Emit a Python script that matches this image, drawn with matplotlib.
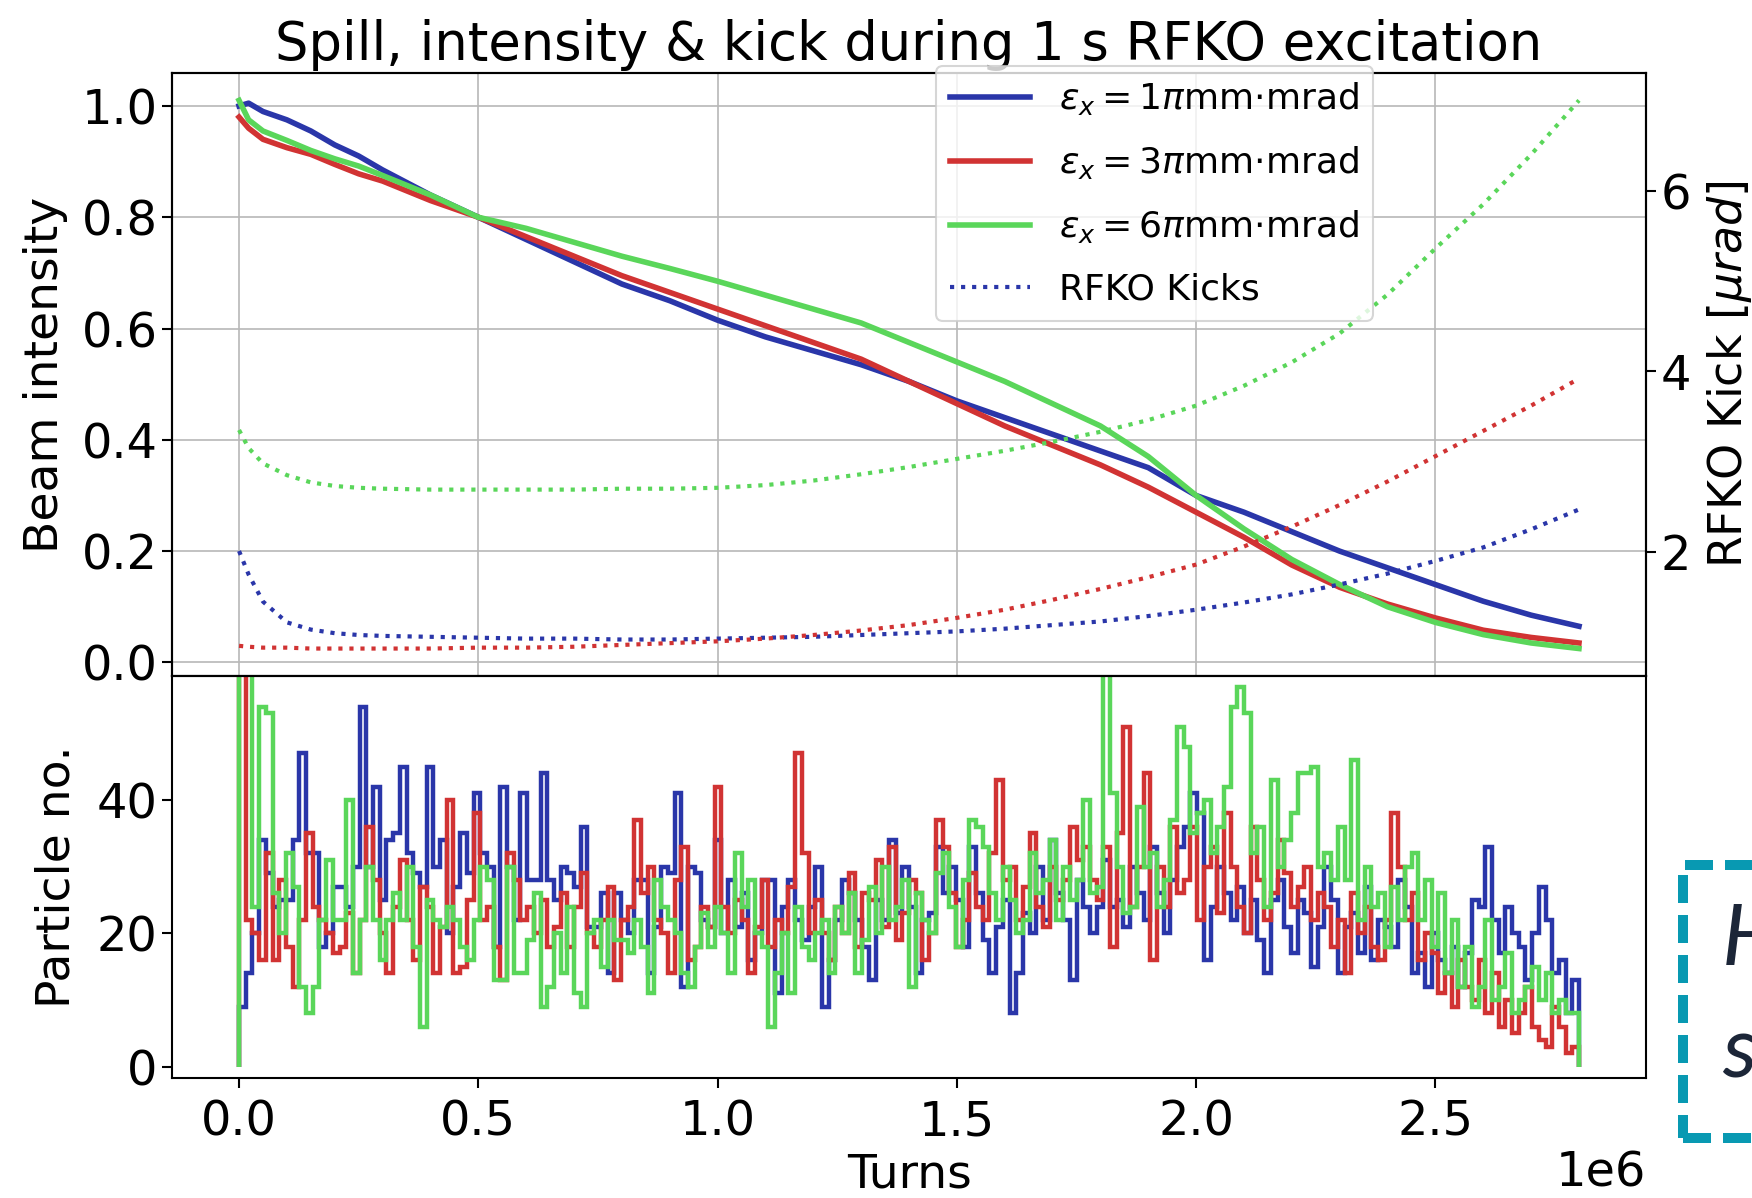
import numpy as np
import matplotlib
matplotlib.use("Agg")
import matplotlib.pyplot as plt
from matplotlib.patches import Rectangle


# turns at which beam intensity and kick were sampled (x 1e6)
turns = [0.0, 0.02, 0.05, 0.1, 0.15, 0.2, 0.25, 0.3, 0.4, 0.5, 0.6, 0.7, 0.8,
         0.9, 1.0, 1.1, 1.2, 1.3, 1.4, 1.5, 1.6, 1.7, 1.8, 1.9, 2.0, 2.1, 2.2,
         2.3, 2.4, 2.5, 2.6, 2.7, 2.8]

intensity_1 = [1.0, 1.005, 0.99, 0.975, 0.955, 0.93, 0.91, 0.885, 0.84, 0.80,
               0.76, 0.72, 0.68, 0.65, 0.615, 0.585, 0.56, 0.535, 0.505, 0.47,
               0.44, 0.41, 0.38, 0.35, 0.30, 0.27, 0.235, 0.20, 0.17, 0.14,
               0.11, 0.085, 0.065]
intensity_3 = [0.98, 0.96, 0.94, 0.925, 0.913, 0.895, 0.878, 0.865, 0.83, 0.80,
               0.765, 0.73, 0.695, 0.665, 0.635, 0.605, 0.575, 0.545, 0.505,
               0.465, 0.425, 0.39, 0.355, 0.315, 0.27, 0.225, 0.175, 0.135,
               0.105, 0.08, 0.058, 0.045, 0.035]
intensity_6 = [1.01, 0.975, 0.955, 0.938, 0.92, 0.905, 0.892, 0.875, 0.84,
               0.80, 0.78, 0.755, 0.73, 0.708, 0.685, 0.66, 0.635, 0.61, 0.575,
               0.54, 0.505, 0.465, 0.425, 0.37, 0.30, 0.24, 0.185, 0.14, 0.10,
               0.072, 0.05, 0.035, 0.025]

kick_1 = [2.01, 1.75, 1.45, 1.22, 1.14, 1.10, 1.08, 1.07, 1.06, 1.05, 1.04,
          1.04, 1.03, 1.03, 1.04, 1.05, 1.06, 1.08, 1.10, 1.12, 1.15, 1.19,
          1.23, 1.29, 1.36, 1.44, 1.53, 1.64, 1.76, 1.90, 2.05, 2.25, 2.47]
kick_3 = [0.96, 0.95, 0.94, 0.94, 0.93, 0.93, 0.93, 0.93, 0.93, 0.94, 0.94,
          0.95, 0.97, 0.99, 1.01, 1.04, 1.08, 1.13, 1.19, 1.27, 1.36, 1.47,
          1.59, 1.72, 1.86, 2.06, 2.28, 2.52, 2.78, 3.06, 3.34, 3.62, 3.92]
kick_6 = [3.35, 3.15, 2.98, 2.85, 2.77, 2.73, 2.71, 2.70, 2.69, 2.69, 2.69,
          2.69, 2.70, 2.70, 2.71, 2.74, 2.79, 2.86, 2.94, 3.03, 3.12, 3.22,
          3.33, 3.46, 3.62, 3.84, 4.10, 4.42, 4.85, 5.36, 5.85, 6.40, 7.00]

# extracted particles per bin (200 bins over 0 - 2.8e6 turns)
spill_1 = [9, 14, 20, 34, 29, 24, 25, 25, 34, 47,
           32, 32, 18, 20, 27, 27, 24, 30, 54, 30,
           42, 25, 34, 35, 45, 32, 29, 27, 45, 30,
           34, 20, 27, 35, 29, 41, 32, 30, 18, 42,
           30, 22, 41, 28, 28, 44, 28, 25, 30, 29,
           27, 36, 21, 21, 26, 14, 26, 22, 20, 28,
           28, 14, 21, 30, 29, 41, 12, 30, 29, 22,
           21, 34, 20, 28, 21, 26, 16, 20, 28, 28,
           11, 24, 28, 22, 19, 24, 30, 9, 16, 22,
           28, 26, 22, 18, 13, 25, 22, 34, 23, 30,
           24, 14, 22, 23, 33, 26, 30, 25, 18, 33,
           26, 19, 14, 21, 25, 8, 14, 23, 20, 30,
           22, 34, 26, 22, 13, 28, 24, 20, 24, 31,
           24, 25, 21, 30, 26, 22, 33, 26, 20, 28,
           33, 36, 41, 38, 16, 24, 30, 26, 22, 27,
           20, 25, 19, 14, 25, 28, 21, 17, 25, 23,
           15, 21, 30, 25, 14, 21, 23, 17, 27, 16,
           22, 21, 18, 28, 24, 14, 17, 12, 20, 16,
           14, 18, 12, 17, 25, 24, 33, 22, 17, 24,
           20, 18, 13, 20, 27, 22, 14, 16, 8, 13]
spill_3 = [62, 22, 20, 16, 32, 16, 28, 18, 12, 22,
           35, 24, 22, 20, 17, 18, 23, 14, 22, 36,
           28, 20, 14, 24, 31, 22, 16, 27, 24, 14,
           21, 40, 14, 15, 25, 38, 22, 24, 18, 13,
           32, 28, 22, 24, 20, 25, 18, 21, 26, 18,
           24, 29, 20, 18, 22, 27, 13, 22, 24, 37,
           26, 30, 22, 20, 14, 28, 33, 16, 18, 24,
           21, 42, 24, 20, 25, 22, 14, 21, 28, 18,
           22, 20, 27, 47, 32, 20, 25, 20, 16, 24,
           20, 29, 18, 26, 25, 31, 21, 33, 19, 23,
           28, 26, 16, 20, 37, 33, 26, 18, 22, 29,
           24, 22, 32, 43, 28, 30, 22, 27, 35, 24,
           21, 30, 25, 28, 36, 31, 33, 28, 25, 33,
           18, 35, 51, 24, 30, 44, 16, 30, 24, 36,
           26, 28, 36, 22, 30, 33, 23, 38, 30, 24,
           20, 36, 28, 22, 26, 34, 29, 24, 27, 30,
           22, 26, 24, 18, 22, 14, 26, 20, 24, 18,
           16, 22, 38, 30, 22, 26, 16, 20, 17, 11,
           14, 9, 16, 12, 10, 16, 8, 14, 6, 10,
           5, 8, 12, 6, 4, 3, 9, 6, 2, 3]
spill_6 = [62, 62, 24, 54, 53, 26, 20, 32, 27, 12,
           8, 12, 22, 31, 22, 22, 40, 14, 22, 30,
           22, 16, 22, 26, 22, 30, 18, 6, 25, 22,
           21, 24, 22, 18, 16, 22, 30, 28, 13, 13,
           30, 14, 14, 19, 26, 9, 12, 20, 14, 24,
           11, 9, 20, 22, 15, 22, 19, 19, 17, 22,
           18, 11, 28, 24, 22, 20, 14, 12, 18, 23,
           18, 24, 20, 14, 32, 24, 28, 20, 18, 6,
           14, 20, 11, 24, 18, 16, 20, 22, 14, 24,
           20, 26, 14, 19, 27, 20, 30, 22, 24, 28,
           12, 26, 22, 20, 29, 32, 24, 18, 28, 37,
           36, 33, 26, 22, 30, 25, 20, 22, 32, 26,
           28, 34, 22, 30, 25, 28, 40, 26, 27, 63,
           41, 30, 23, 24, 39, 30, 32, 24, 28, 37,
           51, 48, 35, 38, 40, 32, 36, 42, 54, 57,
           53, 32, 36, 24, 43, 30, 34, 38, 44, 44,
           45, 30, 32, 28, 36, 28, 46, 22, 30, 24,
           26, 18, 27, 22, 30, 32, 22, 28, 18, 26,
           14, 22, 12, 18, 9, 12, 22, 10, 12, 17,
           8, 10, 12, 15, 10, 14, 8, 10, 8, 8]

labels = [r'$\varepsilon_x = 1\pi$mm$\cdot$mrad',
          r'$\varepsilon_x = 3\pi$mm$\cdot$mrad',
          r'$\varepsilon_x = 6\pi$mm$\cdot$mrad']
colors = ["#2a36a9", "#d13333", "#5ad65a"]


def plot_spill() -> None:

    plt.rcParams['font.family'] = ['DejaVu Sans']
    plt.rcParams['axes.linewidth'] = 1.5
    plt.rcParams['xtick.major.size'] = 7
    plt.rcParams['ytick.major.size'] = 7
    plt.rcParams['xtick.major.width'] = 1.5
    plt.rcParams['ytick.major.width'] = 1.5

    fig, (ax, ax_h) = plt.subplots(2, 1, sharex=True, figsize=(17.52, 11.98), dpi=100,
                                   gridspec_kw={"height_ratios": [3, 2], "hspace": 0})
    fig.subplots_adjust(left=0.0982, right=0.9395, top=0.9391, bottom=0.1002)

    x = np.array(turns) * 1e6
    ax_k = ax.twinx()

    handles = []
    for inten, kick, col, lab in zip([intensity_1, intensity_3, intensity_6],
                                     [kick_1, kick_3, kick_6], colors, labels):
        h, = ax.plot(x, inten, color=col, lw=4, label=lab)
        handles.append(h)
        ax_k.plot(x, kick, color=col, lw=3, linestyle=":")
    kh, = ax_k.plot([], [], color=colors[0], lw=3, linestyle=":", label="RFKO Kicks")
    handles.append(kh)

    ax.set_ylabel("Beam intensity", fontsize=34, labelpad=10)
    ax.set_yticks(np.arange(0, 1.01, 0.2))
    ax.tick_params(labelsize=34.5)
    ax.grid(color="#b8b8b8", lw=1.2)
    ax.set_title("Spill, intensity & kick during 1 s RFKO excitation", fontsize=38, pad=9)

    ax_k.set_ylabel(r"RFKO Kick [$\mu rad$]", fontsize=33, labelpad=10)
    ax_k.set_yticks([2, 4, 6])
    ax_k.tick_params(labelsize=34.5)

    leg = ax_k.legend(handles=handles, loc="upper right", bbox_to_anchor=(0.815, 1.012),
                      borderaxespad=0, fontsize=26, labelspacing=0.75, handlelength=2.2)
    leg.get_frame().set_linewidth(1.5)

    edges = np.linspace(0, 2.8e6, len(spill_1) + 1)
    for spill, col in zip([spill_1, spill_3, spill_6], colors):
        ax_h.stairs(spill, edges, color=col, lw=3.2, baseline=0)

    ax_h.set_ylim(-1.7, 58.6)
    ax_h.set_yticks([0, 20, 40])
    ax_h.set_ylabel("Particle no.", fontsize=34, labelpad=12)
    ax_h.set_xlabel("Turns", fontsize=34, labelpad=5)
    ax_h.tick_params(labelsize=34.5)
    ax_h.tick_params(axis="x", pad=8)
    ax_h.xaxis.get_offset_text().set_fontsize(34.5)
    ax_h.set_xlim(-0.14e6, 2.94e6)
    ax.tick_params(axis="x", labelbottom=False)

    # piece of the slide box next to the figure
    fig.patches.append(Rectangle((0.9605, 0.05), 0.1, 0.228, transform=fig.transFigure,
                                 fill=False, edgecolor="#0899b2", lw=7.2,
                                 linestyle=(0, (2.8, 1.2))))
    fig.text(0.983, 0.1945, "H", fontsize=62, style="italic", family="Lato",
             color="#1c2638", va="baseline")
    fig.text(0.983, 0.101, "s", fontsize=62, style="italic", family="Lato",
             color="#1c2638", va="baseline")

    fig.savefig("out.png", dpi=100)


if (__name__ == "__main__"):
    plot_spill()
